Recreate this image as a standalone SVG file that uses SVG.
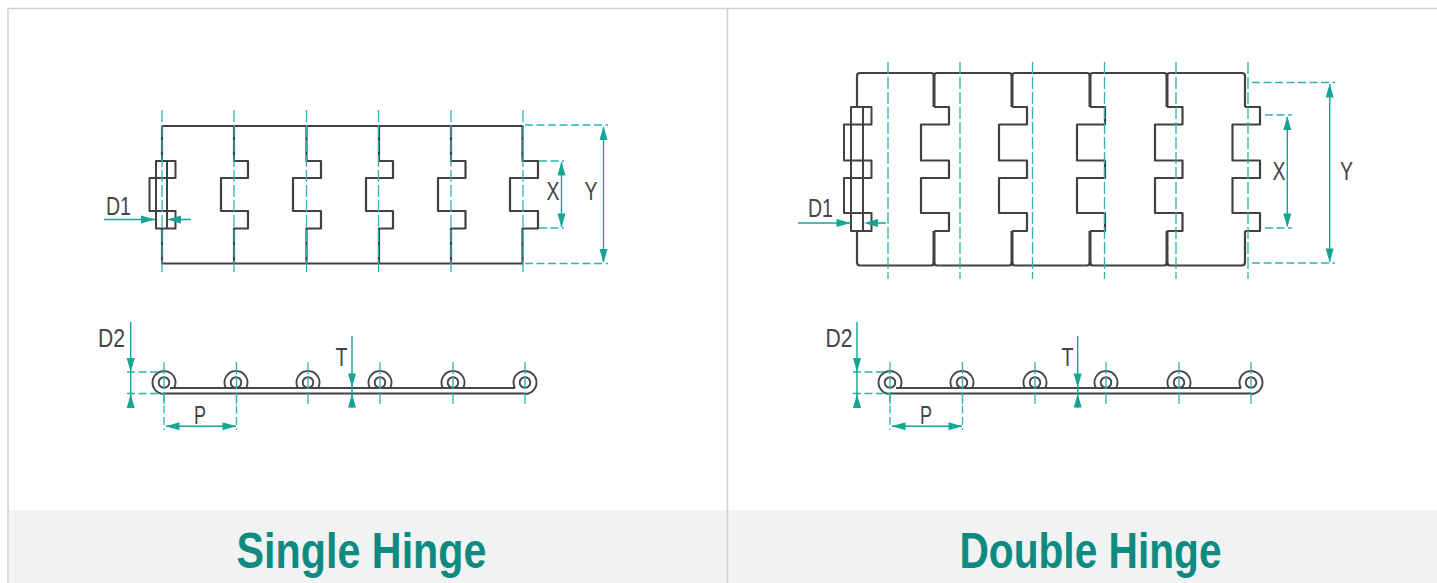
<svg xmlns="http://www.w3.org/2000/svg" width="1437" height="583" viewBox="0 0 1437 583">
<style>
.o{fill:none;stroke:#404142;stroke-width:2.2;stroke-linejoin:round}
.s{fill:none;stroke:#404142;stroke-width:3;stroke-linecap:butt}
.n{fill:none;stroke:#404142;stroke-width:2;stroke-linejoin:round}
.t{fill:none;stroke:#454647;stroke-width:1.9}
.c{fill:none;stroke:#2cb5a8;stroke-width:1.3;stroke-dasharray:12 3}
.e{fill:none;stroke:#2cb5a8;stroke-width:1.3;stroke-dasharray:8 3.500}
.d{fill:none;stroke:#14a594;stroke-width:1.4}
.a{fill:#14a594}
.l{font-family:"Liberation Sans",Arial,sans-serif;font-size:25px;fill:#444546}
.h{font-family:"Liberation Sans",Arial,sans-serif;font-weight:700;font-size:50px;fill:#0f8a80;text-anchor:middle}
</style>
<defs>
<path id="au" class="a" d="M0,0 L-4,14 H4 Z"/>
<path id="ad" class="a" d="M0,0 L-4,-14 H4 Z"/>
<path id="al" class="a" d="M0,0 L14,-4 V4 Z"/>
<path id="ar" class="a" d="M0,0 L-14,-4 V4 Z"/>
<g id="hf"><path class="t" d="M10.100,5.500 A11.500,11.500 0 1 0 0,11.500"/><circle class="t" r="5.300"/></g>
<g id="hm"><path class="t" d="M-10.100,5.500 A11.500,11.500 0 1 1 10.100,5.500"/><circle class="t" r="5.300"/></g>
<g id="hl"><path class="t" d="M-10.100,5.500 A11.500,11.500 0 1 1 0,11.500"/><circle class="t" r="5.300"/></g>
</defs>
<rect width="1437" height="583" fill="#fff"/>
<rect x="9" y="510" width="1428" height="73" fill="#f1f2f4"/>
<path d="M8,583 V8.500 H1437 M727.500,8.500 V583" fill="none" stroke="#d2d2d4" stroke-width="1.600"/>

<g id="single-top">
<path class="o" d="M162,126 H523 M162,263.500 H523"/>
<path class="o" d="M162,126 V161 M162,228.500 V263.500"/>
<path class="n" d="M156,161 H175.500 V178 H149.500 V211 H175.500 V228.500 H156 Z M167,161 V228.500"/>
<path class="o" d="M234,126 V161 H248 V178 H221 V211 H248 V228.500 H234 V263.500"/>
<path class="o" d="M306.500,126 V161 H321 V178 H293 V211 H321 V228.500 H306.500 V263.500"/>
<path class="o" d="M379,126 V161 H393 V178 H366 V211 H393 V228.500 H379 V263.500"/>
<path class="o" d="M451,126 V161 H465.500 V178 H438 V211 H465.500 V228.500 H451 V263.500"/>
<path class="o" d="M522.500,126 V161 H538 V178 H510 V211 H538 V228.500 H522.500 V263.500"/>
</g>
<g id="single-side">
<path class="t" d="M170,388 H515"/>
<path class="o" d="M164,393.500 H525"/>
<use href="#hf" x="164" y="382.500"/><use href="#hm" x="236" y="382.500"/><use href="#hm" x="308" y="382.500"/><use href="#hm" x="380" y="382.500"/><use href="#hm" x="453" y="382.500"/><use href="#hl" x="525" y="382.500"/>
</g>
<g id="double-top">
<path class="o" d="M857,107 V76 Q857,73 860,73 H931 Q934,73 934,76 Q934,73 937,73 H1009 Q1012,73 1012,76 Q1012,73 1015,73 H1087 Q1090,73 1090,76 Q1090,73 1093,73 H1164 Q1167,73 1167,76 Q1167,73 1170,73 H1242 Q1245,73 1245,76 V107"/>
<path class="o" d="M857,231 V262 Q857,265.500 860,265.500 H931 Q934,265.500 934,262 Q934,265.500 937,265.500 H1009 Q1012,265.500 1012,262 Q1012,265.500 1015,265.500 H1087 Q1090,265.500 1090,262 Q1090,265.500 1093,265.500 H1164 Q1167,265.500 1167,262 Q1167,265.500 1170,265.500 H1242 Q1245,265.500 1245,262 V231"/>
<path class="n" d="M851,107 H871.500 V124.500 H844 V160.500 H871.500 V178 H844 V213 H871.500 V231 H851 Z M863,107 V231"/>
<path class="o" d="M934,107 H949 V124.500 H921 V160.500 H949 V178 H921 V213 H949 V231 H934"/>
<path class="o" d="M1012,107 H1027 V124.500 H999 V160.500 H1027 V178 H999 V213 H1027 V231 H1012"/>
<path class="o" d="M1090,107 H1105 V124.500 H1077 V160.500 H1105 V178 H1077 V213 H1105 V231 H1090"/>
<path class="o" d="M1167,107 H1182.500 V124.500 H1155 V160.500 H1182.500 V178 H1155 V213 H1182.500 V231 H1167"/>
<path class="o" d="M1245,107 H1260 V124.500 H1232.500 V160.500 H1260 V178 H1232.500 V213 H1260 V231 H1245"/>
<path class="s" d="M934,75 V107 M934,231 V264 M1012,75 V107 M1012,231 V264 M1090,75 V107 M1090,231 V264 M1167,75 V107 M1167,231 V264"/>
</g>
<g id="double-side">
<path class="t" d="M896,388 H1241"/>
<path class="o" d="M890,393.500 H1251"/>
<use href="#hf" x="890" y="382.500"/><use href="#hm" x="962" y="382.500"/><use href="#hm" x="1035" y="382.500"/><use href="#hm" x="1106" y="382.500"/><use href="#hm" x="1179" y="382.500"/><use href="#hl" x="1251" y="382.500"/>
</g>
<g id="connectors">
<path class="c" d="M162,110 V273 M234,110 V273 M306.500,110 V273 M378.500,110 V273 M451,110 V273 M523,110 V273"/>
<path class="e" d="M525,125 H608 M525,263.500 H608 M539,161 H564 M539,228 H564"/>
<path class="d" d="M603.500,127 V262 M561.500,162 V227 M104,219.500 H155 M191,219.500 H177"/>
<use href="#au" x="603.500" y="126"/><use href="#ad" x="603.500" y="263"/><use href="#au" x="561.500" y="161.500"/><use href="#ad" x="561.500" y="227.500"/>
<use href="#ar" x="155" y="219.500"/><use href="#al" x="167" y="219.500"/>
<path class="c" d="M164,362 V405 M236.500,362 V405 M308,362 V405 M380,362 V405 M453,362 V405 M525,362 V405"/>
<path class="e" d="M127,372 H164 M127,393.500 H164 M164,394 V430 M236.500,394 V430"/>
<path class="d" d="M130.700,322 V408 M166,426.300 H236 M352,336 V408"/>
<use href="#ad" x="130.700" y="372"/><use href="#au" x="130.700" y="394"/><use href="#al" x="165.500" y="426.300"/><use href="#ar" x="236.500" y="426.300"/><use href="#ad" x="352" y="387.500"/><use href="#au" x="352" y="393.500"/>

<path class="c" d="M888,62 V279 M960,62 V279 M1032.500,62 V279 M1104.500,62 V279 M1176,62 V279 M1248,62 V279"/>
<path class="e" d="M1252,82.500 H1335 M1252,263 H1335 M1265,115 H1292 M1265,228 H1292"/>
<path class="d" d="M1329.700,84 V262 M1287.300,117 V226 M798,223 H851 M886,223 H874"/>
<use href="#au" x="1329.700" y="83.500"/><use href="#ad" x="1329.700" y="262.500"/><use href="#au" x="1287.300" y="116"/><use href="#ad" x="1287.300" y="227.500"/>
<use href="#ar" x="850.500" y="223"/><use href="#al" x="864" y="223"/>
<path class="c" d="M890,362 V405 M962.500,362 V405 M1035,362 V405 M1106,362 V405 M1179,362 V405 M1251,362 V405"/>
<path class="e" d="M853,372 H890 M853,393.500 H890 M890,394 V430 M962.500,394 V430"/>
<path class="d" d="M857,322 V408 M892,426.300 H962 M1077.700,336 V408"/>
<use href="#ad" x="857" y="372"/><use href="#au" x="857" y="394"/><use href="#al" x="891.500" y="426.300"/><use href="#ar" x="962.500" y="426.300"/><use href="#ad" x="1077.700" y="387.500"/><use href="#au" x="1077.700" y="393.500"/>
</g>
<g id="labels">
<text class="l" x="106" y="215" textLength="25" lengthAdjust="spacingAndGlyphs">D1</text>
<text class="l" x="546.500" y="200" textLength="13" lengthAdjust="spacingAndGlyphs">X</text>
<text class="l" x="584.500" y="200" textLength="13" lengthAdjust="spacingAndGlyphs">Y</text>
<text class="l" x="98" y="347" textLength="27" lengthAdjust="spacingAndGlyphs">D2</text>
<text class="l" x="335.500" y="366" textLength="12" lengthAdjust="spacingAndGlyphs">T</text>
<text class="l" x="194" y="424" textLength="12" lengthAdjust="spacingAndGlyphs">P</text>
<text class="l" x="808" y="217" textLength="25" lengthAdjust="spacingAndGlyphs">D1</text>
<text class="l" x="1272.500" y="180" textLength="13" lengthAdjust="spacingAndGlyphs">X</text>
<text class="l" x="1340" y="180" textLength="13" lengthAdjust="spacingAndGlyphs">Y</text>
<text class="l" x="825.500" y="347" textLength="27" lengthAdjust="spacingAndGlyphs">D2</text>
<text class="l" x="1061.500" y="366" textLength="12" lengthAdjust="spacingAndGlyphs">T</text>
<text class="l" x="920" y="424" textLength="12" lengthAdjust="spacingAndGlyphs">P</text>
<text class="h" x="361.500" y="568" textLength="250" lengthAdjust="spacingAndGlyphs">Single Hinge</text>
<text class="h" x="1090.500" y="568" textLength="262" lengthAdjust="spacingAndGlyphs">Double Hinge</text>
</g>
</svg>
